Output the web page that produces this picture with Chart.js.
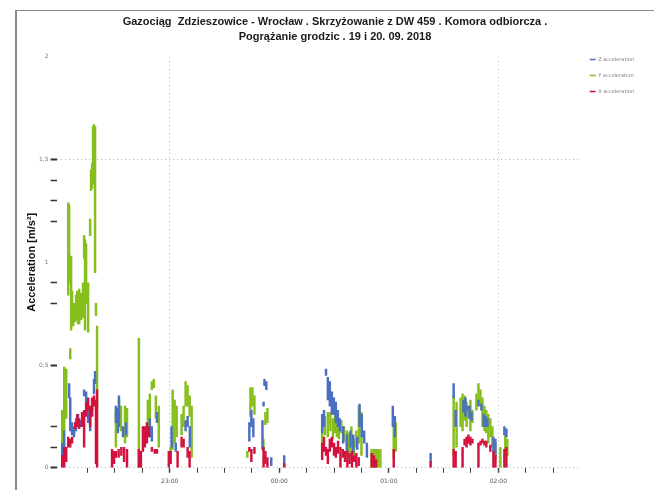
<!DOCTYPE html>
<html>
<head>
<meta charset="utf-8">
<script src="https://cdn.jsdelivr.net/npm/chart.js@4/dist/chart.umd.min.js"></script>
<style>
    html, body { margin: 0; padding: 0; background: #fff; }
    #wrap { position: relative; width: 654px; height: 490px; overflow: hidden; }
    #frame { position: absolute; left: 15px; top: 10px; width: 700px; height: 600px;
             border-left: 2px solid #8a8a8a; border-top: 1px solid #8a8a8a; }
    canvas { position: absolute; left: 0; top: 0; }
</style>
</head>
<body>
<div id="wrap">
    <div id="frame"></div>
    <canvas id="accelChart" width="654" height="490"></canvas>
</div>
<script>
// --- Data: [minute of day (19.09, past midnight > 1440), low, high] in m/s² ---
const zAccel = [
    [1321.1, 0.05, 0.12], [1322.2, 0.10, 0.18], [1324.9, 0.34, 0.41], [1325.5, 0.18, 0.34],
    [1326.5, 0.16, 0.22], [1327.6, 0.15, 0.20], [1328.7, 0.18, 0.24], [1329.8, 0.22, 0.26],
    [1331.5, 0.20, 0.23], [1333.1, 0.35, 0.38], [1334.2, 0.32, 0.37], [1335.3, 0.22, 0.30],
    [1336.4, 0.18, 0.26], [1337.5, 0.28, 0.33], [1338.5, 0.36, 0.43], [1339.1, 0.41, 0.47],
    [1350.5, 0.22, 0.30], [1351.6, 0.17, 0.29], [1352.2, 0.20, 0.35], [1354.4, 0.15, 0.20],
    [1356.0, 0.16, 0.22], [1369.1, 0.15, 0.24], [1370.2, 0.13, 0.20], [1373.0, 0.22, 0.27],
    [1381.0, 0.10, 0.20], [1383.3, 0.08, 0.12], [1388.7, 0.18, 0.23], [1389.8, 0.20, 0.25],
    [1391.0, 0.10, 0.20], [1423.6, 0.13, 0.22], [1424.7, 0.20, 0.28], [1425.8, 0.15, 0.24],
    [1430.8, 0.09, 0.23], [1431.4, 0.30, 0.32], [1431.9, 0.40, 0.43], [1432.9, 0.38, 0.42],
    [1435.6, 0.01, 0.05], [1442.7, 0.01, 0.06], [1463.5, 0.17, 0.26], [1464.5, 0.20, 0.28],
    [1465.6, 0.45, 0.48], [1466.6, 0.33, 0.44], [1467.7, 0.30, 0.42], [1468.8, 0.26, 0.37],
    [1469.9, 0.26, 0.34], [1471.0, 0.22, 0.32], [1472.1, 0.20, 0.28], [1473.2, 0.18, 0.24],
    [1475.0, 0.12, 0.20], [1477.0, 0.08, 0.16], [1479.0, 0.10, 0.18], [1480.5, 0.07, 0.16],
    [1482.7, 0.09, 0.15], [1484.0, 0.20, 0.31], [1485.2, 0.15, 0.26], [1486.5, 0.12, 0.18],
    [1488.0, 0.05, 0.12], [1502.2, 0.20, 0.30], [1503.3, 0.15, 0.25], [1522.9, 0.03, 0.07],
    [1535.5, 0.34, 0.41], [1536.6, 0.20, 0.28], [1540.9, 0.27, 0.33], [1542.0, 0.25, 0.34],
    [1543.1, 0.28, 0.30], [1544.2, 0.24, 0.30], [1545.3, 0.23, 0.27], [1549.1, 0.30, 0.33],
    [1550.7, 0.28, 0.31], [1552.0, 0.20, 0.26], [1553.0, 0.20, 0.25], [1554.0, 0.20, 0.24],
    [1557.3, 0.08, 0.15], [1558.4, 0.06, 0.14], [1563.3, 0.16, 0.20], [1564.4, 0.15, 0.19]
];
const yAccel = [
    [1321.1, 0.03, 0.28], [1322.2, 0.18, 0.49], [1323.3, 0.24, 0.48], [1324.4, 0.84, 1.29],
    [1324.9, 0.90, 1.28], [1325.5, 0.53, 0.58], [1326.0, 0.67, 1.03], [1326.5, 0.71, 0.86],
    [1327.1, 0.69, 0.75], [1327.6, 0.72, 0.80], [1328.2, 0.71, 0.77], [1328.7, 0.72, 0.84],
    [1329.3, 0.74, 0.86], [1329.8, 0.70, 0.82], [1330.4, 0.70, 0.87], [1331.5, 0.72, 0.85],
    [1332.5, 0.73, 0.90], [1333.1, 1.02, 1.13], [1333.6, 0.67, 1.11], [1334.2, 0.80, 1.09],
    [1335.3, 0.66, 0.90], [1336.4, 1.13, 1.21], [1336.9, 1.35, 1.45], [1337.5, 1.36, 1.48],
    [1338.0, 1.38, 1.66], [1338.5, 1.45, 1.67], [1339.1, 0.95, 1.66], [1339.6, 0.74, 0.80],
    [1340.2, 0.30, 0.69],
    [1350.5, 0.10, 0.28], [1352.2, 0.25, 0.33], [1353.3, 0.18, 0.30], [1355.5, 0.12, 0.30],
    [1356.6, 0.15, 0.29], [1363.1, 0.00, 0.63], [1368.0, 0.17, 0.33], [1369.1, 0.20, 0.36],
    [1370.2, 0.38, 0.42], [1371.3, 0.39, 0.43], [1372.4, 0.24, 0.35], [1374.0, 0.10, 0.30],
    [1380.5, 0.04, 0.10], [1381.6, 0.09, 0.38], [1382.7, 0.12, 0.33], [1383.8, 0.15, 0.30],
    [1386.5, 0.16, 0.26], [1387.6, 0.20, 0.30], [1388.7, 0.30, 0.42], [1389.8, 0.30, 0.40],
    [1390.9, 0.25, 0.35], [1392.0, 0.05, 0.30],
    [1422.5, 0.05, 0.08], [1424.2, 0.25, 0.39], [1425.3, 0.30, 0.39], [1426.4, 0.26, 0.35],
    [1431.3, 0.08, 0.14], [1432.4, 0.21, 0.27], [1433.5, 0.22, 0.29],
    [1463.5, 0.10, 0.20], [1465.0, 0.16, 0.25], [1466.6, 0.15, 0.27], [1468.0, 0.18, 0.27],
    [1469.4, 0.14, 0.24], [1470.5, 0.17, 0.26], [1471.6, 0.15, 0.25], [1472.7, 0.14, 0.22],
    [1474.0, 0.17, 0.23], [1475.5, 0.13, 0.20], [1477.0, 0.10, 0.18], [1478.2, 0.05, 0.17],
    [1479.5, 0.08, 0.20], [1480.9, 0.06, 0.14], [1482.2, 0.10, 0.18], [1483.6, 0.12, 0.30],
    [1485.0, 0.06, 0.27], [1490.6, 0.00, 0.09], [1491.8, 0.00, 0.09], [1493.0, 0.00, 0.09],
    [1494.2, 0.00, 0.09], [1495.4, 0.00, 0.09], [1502.7, 0.05, 0.20], [1503.8, 0.08, 0.22],
    [1535.5, 0.06, 0.35], [1537.1, 0.10, 0.32], [1539.3, 0.20, 0.34], [1540.4, 0.18, 0.36],
    [1541.5, 0.23, 0.35], [1542.6, 0.20, 0.32], [1543.6, 0.24, 0.30], [1544.7, 0.18, 0.33],
    [1545.8, 0.22, 0.28], [1548.0, 0.28, 0.36], [1549.1, 0.33, 0.41], [1550.2, 0.30, 0.38],
    [1551.3, 0.20, 0.34], [1552.4, 0.18, 0.30], [1553.4, 0.17, 0.28], [1554.5, 0.12, 0.26],
    [1555.6, 0.15, 0.24], [1556.7, 0.10, 0.20], [1558.4, 0.04, 0.12], [1561.1, 0.00, 0.10],
    [1563.8, 0.08, 0.16], [1564.9, 0.06, 0.14]
];
const xAccel = [
    [1321.1, 0.00, 0.06], [1322.2, 0.00, 0.10], [1323.3, 0.03, 0.10], [1324.4, 0.10, 0.15],
    [1325.5, 0.10, 0.14], [1326.5, 0.12, 0.15], [1328.2, 0.19, 0.22], [1329.3, 0.20, 0.26],
    [1330.4, 0.19, 0.24], [1332.0, 0.20, 0.27], [1333.1, 0.10, 0.28], [1334.2, 0.25, 0.32],
    [1335.3, 0.28, 0.34], [1336.4, 0.20, 0.30], [1337.5, 0.25, 0.34], [1338.5, 0.30, 0.35],
    [1339.6, 0.02, 0.33], [1340.2, 0.00, 0.38],
    [1348.4, 0.00, 0.09], [1349.5, 0.02, 0.08], [1350.5, 0.05, 0.08], [1352.0, 0.05, 0.09],
    [1353.5, 0.06, 0.10], [1355.0, 0.03, 0.10], [1356.6, 0.00, 0.09],
    [1363.1, 0.00, 0.09], [1364.2, 0.00, 0.08], [1365.3, 0.08, 0.20], [1366.4, 0.10, 0.20],
    [1367.5, 0.12, 0.22], [1368.6, 0.15, 0.20], [1370.2, 0.08, 0.10], [1371.8, 0.07, 0.09],
    [1373.0, 0.07, 0.09],
    [1379.5, 0.00, 0.08], [1380.5, 0.02, 0.08], [1384.3, 0.00, 0.08], [1386.5, 0.10, 0.15],
    [1387.6, 0.10, 0.14], [1389.8, 0.05, 0.10], [1390.9, 0.00, 0.08],
    [1423.6, 0.08, 0.10], [1424.7, 0.03, 0.09], [1426.4, 0.07, 0.10], [1431.4, 0.00, 0.10],
    [1432.4, 0.02, 0.08], [1433.5, 0.00, 0.05], [1442.7, 0.00, 0.02],
    [1463.5, 0.04, 0.12], [1464.5, 0.08, 0.15], [1465.6, 0.06, 0.10], [1466.6, 0.02, 0.09],
    [1467.7, 0.08, 0.14], [1468.8, 0.10, 0.15], [1470.0, 0.06, 0.12], [1471.0, 0.05, 0.10],
    [1472.2, 0.07, 0.13], [1473.5, 0.00, 0.10], [1474.8, 0.05, 0.09], [1476.0, 0.03, 0.08],
    [1477.3, 0.00, 0.08], [1478.5, 0.02, 0.07], [1479.8, 0.00, 0.08], [1481.0, 0.03, 0.06],
    [1482.2, 0.00, 0.07], [1483.5, 0.01, 0.05], [1490.6, 0.00, 0.07], [1491.8, 0.00, 0.06],
    [1493.0, 0.00, 0.04], [1502.7, 0.00, 0.09], [1522.9, 0.00, 0.03],
    [1535.5, 0.00, 0.09], [1536.6, 0.00, 0.08], [1540.4, 0.00, 0.10], [1541.5, 0.11, 0.14],
    [1542.6, 0.10, 0.15], [1543.6, 0.12, 0.16], [1544.7, 0.11, 0.15], [1545.8, 0.12, 0.14],
    [1549.1, 0.00, 0.12], [1550.2, 0.11, 0.13], [1551.3, 0.12, 0.14], [1552.4, 0.11, 0.13],
    [1553.4, 0.10, 0.13], [1555.6, 0.08, 0.11], [1557.3, 0.00, 0.08], [1558.4, 0.00, 0.06],
    [1563.3, 0.00, 0.09], [1564.4, 0.00, 0.10]
];

// --- Axes ---
const xTickMinutes = [1335, 1350, 1365, 1380, 1395, 1410, 1425, 1440, 1455, 1470, 1485, 1500,
                      1515, 1530, 1545, 1560, 1575, 1590];
const xLabelMinutes = [1380, 1440, 1500, 1560];
const xGridMinutes = [1380, 1560];
const yTickValues = [0, 0.1, 0.2, 0.5, 0.8, 0.9, 1, 1.2, 1.3, 1.4, 1.5, 2];
const yLabelValues = [0, 0.5, 1, 1.5, 2];
const yGridValues = [0, 1.5];

const titleLines = [
    'Gazociąg  Zdzieszowice - Wrocław . Skrzyżowanie z DW 459 . Komora odbiorcza .',
    'Pogrążanie grodzic . 19 i 20. 09. 2018'
];

const near = (list, v) => list.some(t => Math.abs(t - v) < 1e-6);
const toBars = rows => rows.map(([t, lo, hi]) => ({ x: t, y: [lo, hi] }));
const hhmm = m => {
    const mm = Math.round(m) % 1440;
    return String(Math.floor(mm / 60)).padStart(2, '0') + ':' + String(mm % 60).padStart(2, '0');
};

new Chart(document.getElementById('accelChart'), {
    type: 'bar',
    data: {
        datasets: [
            { label: 'Z acceleration', data: toBars(zAccel), backgroundColor: '#4b6fc2', order: 1 },
            { label: 'Y acceleration', data: toBars(yAccel), backgroundColor: '#86bf1c', order: 2 },
            { label: 'X acceleration', data: toBars(xAccel), backgroundColor: '#d2123e', order: 0 }
        ]
    },
    options: {
        responsive: false,
        animation: false,
        devicePixelRatio: 1,
        grouped: false,
        barThickness: 1.8,
        minBarLength: 1,
        layout: { padding: { left: 26, right: 10, top: 0, bottom: 0 } },
        plugins: {
            tooltip: { enabled: false },
            title: {
                display: true,
                text: titleLines,
                color: '#1a1a1a',
                font: { family: 'Liberation Sans', size: 11, weight: 'bold', lineHeight: 1.4 },
                padding: { top: 14, bottom: 12 }
            },
            legend: {
                position: 'right',
                align: 'start',
                title: {
                    display: true,
                    text: ' ',
                    font: { size: 5 },
                    padding: { top: 40, bottom: 0 }
                },
                labels: {
                    sort: (a, b) => a.datasetIndex - b.datasetIndex,
                    usePointStyle: true,
                    pointStyle: 'line',
                    pointStyleWidth: 6,
                    color: '#777',
                    font: { family: 'DejaVu Sans', size: 5 },
                    padding: 11,
                    generateLabels: chart =>
                        Chart.defaults.plugins.legend.labels.generateLabels(chart).map(item => ({
                            ...item,
                            strokeStyle: chart.data.datasets[item.datasetIndex].backgroundColor,
                            lineWidth: 1.5
                        }))
                }
            }
        },
        scales: {
            x: {
                type: 'linear',
                min: 1318,
                max: 1604,
                offset: false,
                afterBuildTicks: axis => { axis.ticks = xTickMinutes.map(v => ({ value: v })); },
                border: { display: false, dash: [1, 3] },
                grid: {
                    offset: false,
                    color: ctx => near(xGridMinutes, ctx.tick.value) ? '#b5b5b5' : 'rgba(0,0,0,0)',
                    tickColor: '#444',
                    tickWidth: ctx => near(xLabelMinutes, ctx.tick.value) ? 1.5 : 1,
                    tickLength: 5
                },
                ticks: {
                    autoSkip: false,
                    maxRotation: 0,
                    padding: 5,
                    color: '#556',
                    font: { family: 'DejaVu Sans', size: 6 },
                    callback: v => near(xLabelMinutes, v) ? hhmm(v) : ''
                }
            },
            y: {
                min: 0,
                max: 2,
                afterBuildTicks: axis => { axis.ticks = yTickValues.map(v => ({ value: v })); },
                border: { display: false, dash: [1, 3] },
                grid: {
                    color: ctx => near(yGridValues, ctx.tick.value) ? '#b5b5b5' : 'rgba(0,0,0,0)',
                    tickColor: ctx => (ctx.tick.value === 1 || ctx.tick.value === 2) ? 'rgba(0,0,0,0)' : '#333',
                    tickWidth: ctx => near(yLabelValues, ctx.tick.value) ? 2 : 1.5,
                    tickLength: 6
                },
                ticks: {
                    padding: 2,
                    color: '#777',
                    font: { family: 'DejaVu Sans', size: 6 },
                    callback: v => near(yLabelValues, v) ? String(v).replace('.', ',') : ''
                },
                title: {
                    display: true,
                    text: 'Acceleration [m/s²]',
                    color: '#111',
                    font: { family: 'Liberation Sans', size: 11, weight: 'bold', lineHeight: 1 },
                    padding: { top: 0, bottom: 0 }
                }
            }
        }
    }
});
</script>
</body>
</html>
